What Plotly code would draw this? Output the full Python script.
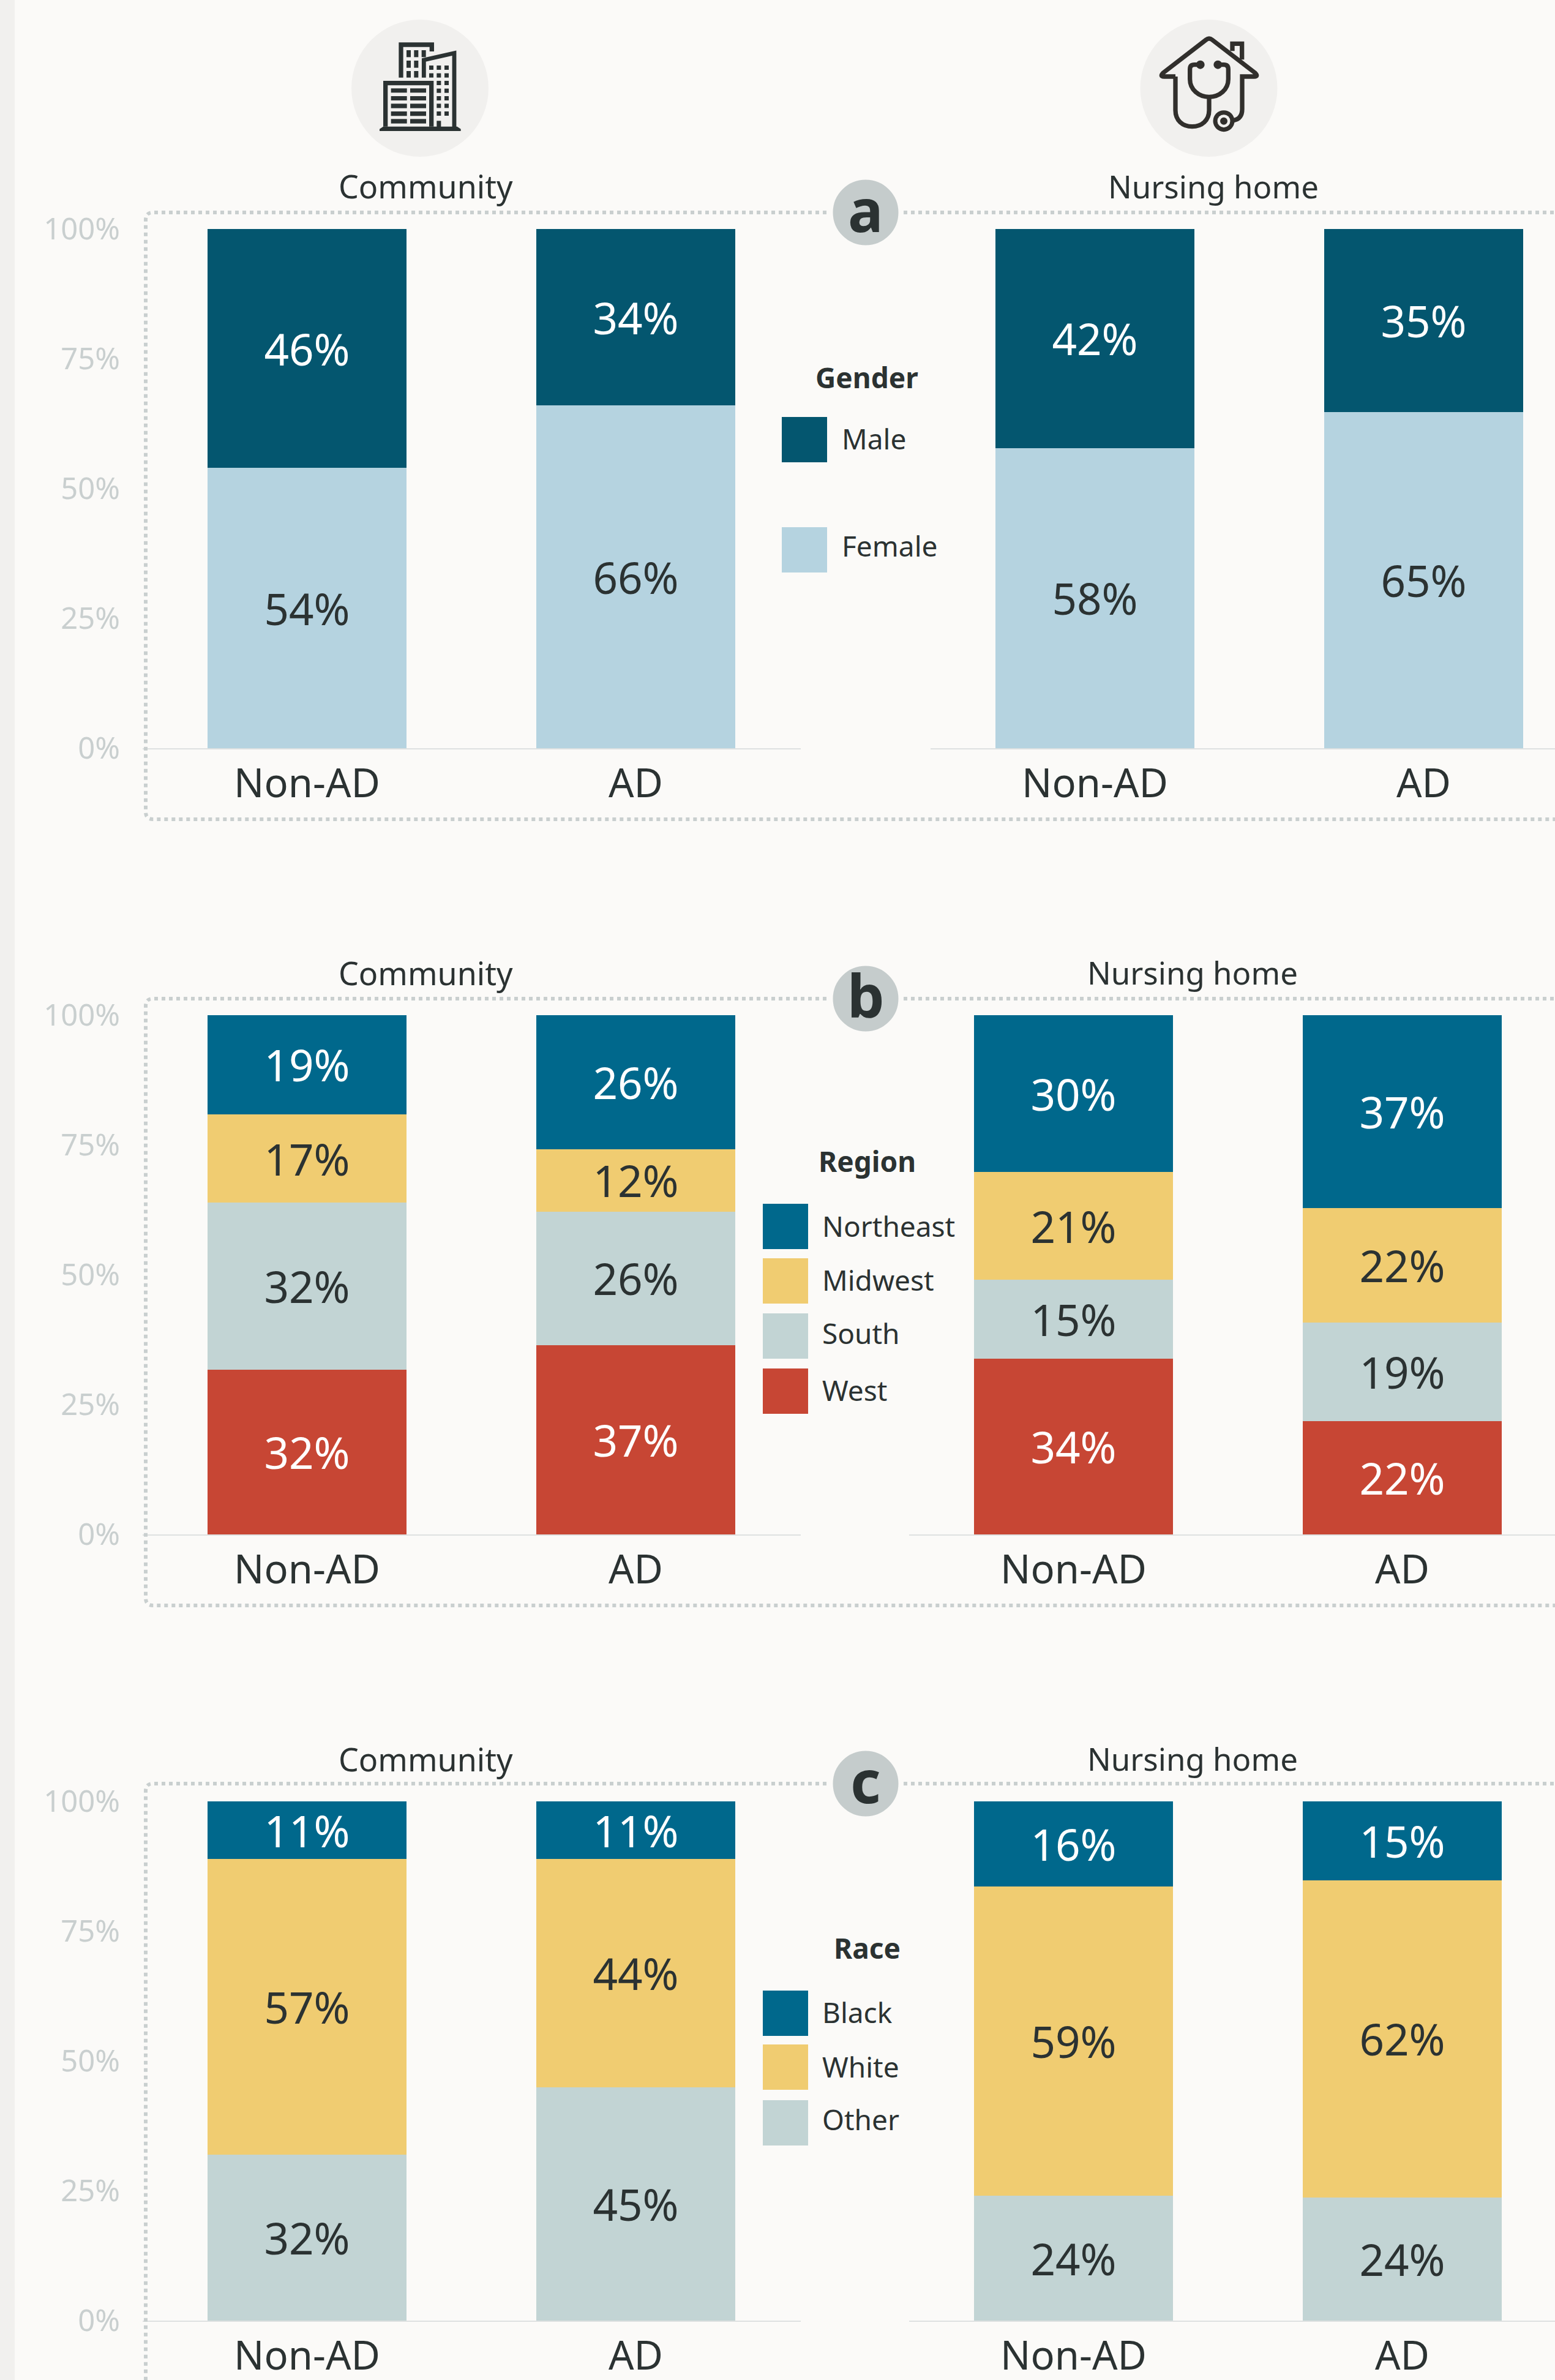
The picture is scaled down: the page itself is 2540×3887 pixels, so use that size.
import re
import plotly.graph_objects as go

W, H = 2540, 3887
FONT = "Noto Sans"
BG = "#FBFAF8"
INK = "#2B3232"
TICK = "#C9CFCF"
BOX = "#C9CFCF"

# ------- data -------
groups = ["Non-AD", "AD"]
y_ticks = [0, 25, 50, 75, 100]

gender_names = ["Female", "Male"]
gender_colors = ["#B5D3E0", "#04566F"]
gender_text = ["#2B3232", "#FFFFFF"]
gender_comm = {"Female": [54, 66], "Male": [46, 34]}
gender_nurs = {"Female": [57.8, 64.8], "Male": [42.2, 35.2]}
gender_comm_lab = {"Female": ["54%", "66%"], "Male": ["46%", "34%"]}
gender_nurs_lab = {"Female": ["58%", "65%"], "Male": ["42%", "35%"]}

region_names = ["West", "South", "Midwest", "Northeast"]
region_colors = ["#C74634", "#C2D4D4", "#F0CC71", "#00688C"]
region_text = ["#FFFFFF", "#2B3232", "#2B3232", "#FFFFFF"]
region_comm = {"West": [31.7, 36.4], "South": [32.2, 25.8], "Midwest": [17.0, 12.0], "Northeast": [19.1, 25.8]}
region_nurs = {"West": [33.8, 21.8], "South": [15.2, 19.0], "Midwest": [20.8, 22.0], "Northeast": [30.2, 37.2]}
region_comm_lab = {"West": ["32%", "37%"], "South": ["32%", "26%"], "Midwest": ["17%", "12%"], "Northeast": ["19%", "26%"]}
region_nurs_lab = {"West": ["34%", "22%"], "South": ["15%", "19%"], "Midwest": ["21%", "22%"], "Northeast": ["30%", "37%"]}

race_names = ["Other", "White", "Black"]
race_colors = ["#C2D4D4", "#F0CC71", "#00688C"]
race_text = ["#2B3232", "#2B3232", "#FFFFFF"]
race_comm = {"Other": [32.0, 44.9], "White": [56.9, 44.0], "Black": [11.1, 11.1]}
race_nurs = {"Other": [24.0, 23.7], "White": [59.6, 61.1], "Black": [16.4, 15.2]}
race_comm_lab = {"Other": ["32%", "45%"], "White": ["57%", "44%"], "Black": ["11%", "11%"]}
race_nurs_lab = {"Other": ["24%", "24%"], "White": ["59%", "62%"], "Black": ["16%", "15%"]}

panel_letters = ["a", "b", "c"]
legend_titles = ["Gender", "Region", "Race"]
community_title = "Community"
nursing_title = "Nursing home"


# ------- page-pixel helpers -------
def fx(x):
    return x / W


def fy(y):
    return 1 - y / H


def path(s, dx=0, dy=0, k=1.0):
    out, i = [], 0
    for tok in re.findall(r"[A-Za-z]|-?[\d.]+", s):
        if tok.isalpha():
            out.append(tok)
        else:
            v = float(tok)
            out.append(f"{fx(dx + v * k):.6f}" if i % 2 == 0 else f"{fy(dy + v * k):.6f}")
            i += 1
    res = ""
    for t in out:
        if t.isalpha():
            res += t
        else:
            res += t + ("," if res[-1].isalpha() or res[-1] == " " else " ")
    return res


shapes, annots = [], []


def rect(x0, y0, x1, y1, color):
    shapes.append(dict(type="rect", xref="paper", yref="paper", x0=fx(x0), x1=fx(x1), y0=fy(y0), y1=fy(y1),
                       fillcolor=color, line=dict(width=0)))


def circle(cx, cy, r, color, line=None, lw=0):
    shapes.append(dict(type="circle", xref="paper", yref="paper", x0=fx(cx - r), x1=fx(cx + r),
                       y0=fy(cy + r), y1=fy(cy - r), fillcolor=color,
                       line=dict(width=lw, color=line or color)))


def stroke(s, color, width, dx=0, dy=0, k=1.0, dash=None):
    shapes.append(dict(type="path", xref="paper", yref="paper", path=path(s, dx, dy, k),
                       line=dict(color=color, width=width, dash=dash), fillcolor="rgba(0,0,0,0)"))


def fill(s, color, dx=0, dy=0, k=1.0):
    shapes.append(dict(type="path", xref="paper", yref="paper", path=path(s, dx, dy, k),
                       line=dict(width=0), fillcolor=color))


def text(x, y, s, size, color=INK, anchor="center", bold=False):
    annots.append(dict(xref="paper", yref="paper", x=fx(x), y=fy(y), text=f"<b>{s}</b>" if bold else s,
                       showarrow=False, xanchor=anchor, yanchor="middle",
                       font=dict(family=FONT, size=size, color=color)))


fig = go.Figure()

# ------- layout constants (page pixels) -------
DY = 1284
TOP, BASE = 374, 1222
STEP, BAR = 537, 325
LEFT_C0 = 501.5
RIGHT_C0 = [1788.5, 1753.5, 1753.5]
LEFT_END = 1308

panels = [
    (gender_names, gender_colors, gender_text, gender_comm, gender_nurs, gender_comm_lab, gender_nurs_lab),
    (region_names, region_colors, region_text, region_comm, region_nurs, region_comm_lab, region_nurs_lab),
    (race_names, race_colors, race_text, race_comm, race_nurs, race_comm_lab, race_nurs_lab),
]

axes = {}
ax_i = 1
for p, (names, colors, tcolors, comm, nurs, comm_lab, nurs_lab) in enumerate(panels):
    top, base = TOP + p * DY, BASE + p * DY
    for side, (vals, labs) in enumerate([(comm, comm_lab), (nurs, nurs_lab)]):
        xa, ya = f"x{ax_i}", f"y{ax_i}"
        for n, c, tc in zip(names, colors, tcolors):
            fig.add_trace(go.Bar(
                x=groups, y=vals[n], name=n, xaxis=xa, yaxis=ya, text=labs[n],
                marker=dict(color=c, line=dict(width=0)), showlegend=False,
                textposition="inside", insidetextanchor="middle", textangle=0, constraintext="none",
                insidetextfont=dict(family=FONT, size=71, color=tc),
            ))
        if side == 0:
            c0 = LEFT_C0
            end = LEFT_END
        else:
            c0 = RIGHT_C0[p]
            end = W
        start = c0 - 0.5 * STEP
        suffix = "" if ax_i == 1 else str(ax_i)
        axes[f"xaxis{suffix}"] = dict(
            domain=[fx(start), fx(end)], anchor=ya, type="category", categoryorder="array", categoryarray=groups,
            range=[-0.5, (end - c0) / STEP], showgrid=False, zeroline=False, showline=True,
            linecolor="#DEE1E1", linewidth=2, ticks="", ticklabelstandoff=0, automargin=False,
            tickfont=dict(family=FONT, size=65, color=INK), fixedrange=True,
        )
        axes[f"yaxis{suffix}"] = dict(
            domain=[fy(base), fy(top)], anchor=xa, range=[0, 100], showgrid=False, zeroline=False, showline=False,
            tickmode="array", tickvals=y_ticks, ticktext=[f"{v}%" for v in y_ticks], ticks="",
            showticklabels=side == 0, ticklabelstandoff=36, automargin=False,
            tickfont=dict(family=FONT, size=49, color=TICK), fixedrange=True,
        )
        ax_i += 1

# ------- decoration -------
rect(0, 0, 24, H, "#F1F0EE")

box_bottoms = [1338, 1338 + DY, 1338 + 2 * DY + 200]
for p in range(3):
    yt = 347 + p * DY - (2 if p else 0) + (2 if p == 1 else 0)
    yb = box_bottoms[p]
    stroke(f"M 2550,{yt} L 250,{yt} Q 238,{yt} 238,{yt + 12} L 238,{yb - 12} Q 238,{yb} 250,{yb} L 2550,{yb}",
           BOX, 6, dash="6px,6px")
    cy = yt
    circle(1414, cy, 57, "#C5CCCC", BG, 7)
    text(1414, cy - 6, panel_letters[p], 96, bold=True)
    text(695, 304 + p * DY, community_title, 52)
    text(1982 if p == 0 else 1948, 304 + p * DY, nursing_title, 51)

# legends
text(1416, 616, legend_titles[0], 46, bold=True)
for (y0, y1, name, col, yc) in [(681, 755, "Male", gender_colors[1], 716), (861, 935, "Female", gender_colors[0], 891)]:
    rect(1277, y0, 1351, y1, col)
    text(1373, yc, name, 46, anchor="left")

text(1416, 1896, legend_titles[1], 46, bold=True)
rows_b = [(1966, 2040, 2002), (2055, 2129, 2090), (2145, 2219, 2177), (2235, 2309, 2270)]
for row, name, col in zip(rows_b, region_names[::-1], region_colors[::-1]):
    rect(1246, row[0], 1320, row[1], col)
    text(1341, row[2], name, 46, anchor="left")

text(1416, 3181, legend_titles[2], 46, bold=True)
rows_c = [(3251, 3325, 3286), (3339, 3413, 3375), (3430, 3504, 3461)]
for row, name, col in zip(rows_c, race_names[::-1], race_colors[::-1]):
    rect(1246, row[0], 1320, row[1], col)
    text(1341, row[2], name, 46, anchor="left")

# building icon (coordinates in a local 600-unit box)
circle(686, 144, 112, "#F1F0EE")
BX, BY, K = 590, 40, 1 / 3
ICON = "#2B3232"
fill("M 90,512 L 108,500 L 470,500 L 488,512 L 488,522 L 90,522 Z", ICON, BX, BY, K)
stroke("M 119,500 L 119,287 L 344,287 L 344,500", ICON, 7.3, BX, BY, K)
for wy0, wy1 in [(313, 334), (351, 372), (388, 410), (426, 448), (463, 485)]:
    for wx0, wx1 in [(146, 224), (240, 318)]:
        rect(BX + wx0 * K, BY + wy0 * K, BX + wx1 * K, BY + wy1 * K, ICON)
stroke("M 195,260 L 195,99 L 346,99 L 346,132", ICON, 7.3, BX, BY, K)
for wy0, wy1, cols in [(126, 160, [(222, 243), (259, 280), (296, 317)]), (177, 212, [(222, 243), (259, 280)]),
                       (228, 260, [(222, 243), (259, 280)])]:
    for wx0, wx1 in cols:
        rect(BX + wx0 * K, BY + wy0 * K, BX + wx1 * K, BY + wy1 * K, ICON)
stroke("M 307,260 L 307,174 L 456,140 L 456,505", ICON, 6.8, BX, BY, K)
for j, (wy0, wy1) in enumerate([(201, 222), (239, 260), (276, 297), (314, 335), (351, 372), (388, 409), (426, 447)]):
    for wx0, wx1 in ([(333, 354)] if j < 2 else []) + [(370, 391), (408, 429)]:
        rect(BX + wx0 * K, BY + wy0 * K, BX + wx1 * K, BY + wy1 * K, ICON)
rect(BX + 370 * K, BY + 472 * K, BX + 391 * K, BY + 505 * K, ICON)

# nursing-home icon
circle(1974.5, 144, 112, "#F1F0EE")
HX, HY = 1875, 40
HOUSE = "#312F2C"
LW = 7.3
stroke("M 135,255 L 80,255 Q 56,255 76,236 L 285,75 Q 300,63 315,75 L 524,236 Q 544,255 520,255 L 462,255 "
       "L 462,415 Q 462,462 420,470", HOUSE, LW, HX, HY, K)
stroke("M 414,130 L 414,94 L 461,94 L 461,172", HOUSE, LW, HX, HY, K)
stroke("M 135,255 L 135,420 C 135,470 170,500 217,500 C 264,500 300,470 300,420 L 300,355", HOUSE, LW, HX, HY, K)
stroke("M 250,197 L 228,197 Q 206,197 206,219 L 206,268 C 206,320 250,355 300,355 C 350,355 394,320 394,268 "
       "L 394,219 Q 394,197 372,197 L 350,197", HOUSE, LW, HX, HY, K)
circle(HX + 257 * K, HY + 197 * K, 7, HOUSE)
circle(HX + 343 * K, HY + 197 * K, 7, HOUSE)
circle(HX + 372 * K, HY + 473 * K, 17.5, HOUSE)
circle(HX + 372 * K, HY + 473 * K, 10.5, "#F1F0EE")
circle(HX + 372 * K, HY + 473 * K, 6, HOUSE)

fig.update_layout(
    width=W, height=H, margin=dict(l=0, r=0, t=0, b=0, pad=0, autoexpand=False), autosize=False,
    paper_bgcolor=BG, plot_bgcolor="rgba(0,0,0,0)", barmode="stack", bargap=1 - BAR / STEP,
    showlegend=False, shapes=shapes, annotations=annots, font=dict(family=FONT), **axes,
)

fig.write_html("out.html", config=dict(displayModeBar=False),
               post_script="document.body.style.margin='0';document.body.style.overflow='hidden';")
